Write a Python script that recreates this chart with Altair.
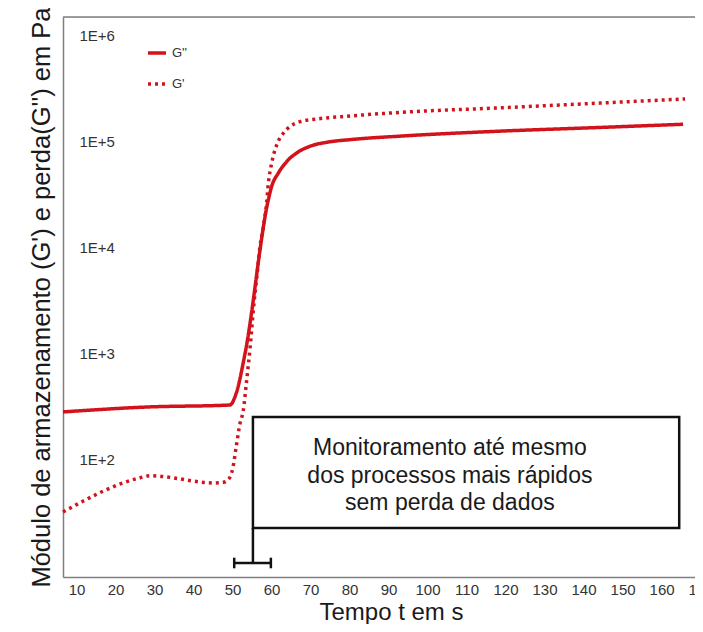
import altair as alt
import pandas as pd

RED = "#d3131c"
FONT = "Liberation Sans"

# --- data ---
x_ticks = [10, 20, 30, 40, 50, 60, 70, 80, 90, 100, 110, 120, 130, 140, 150, 160, 170]
y_ticks = [1e2, 1e3, 1e4, 1e5, 1e6]

t_loss = [6.4, 28.0, 49.2, 50.8, 53.1, 59.05, 59.9, 61.6, 63.8, 66.3, 69.7, 74.0, 80.0, 92.8,
          118.5, 144.1, 165.4]
g_loss = [284, 316, 330, 425, 1021, 28500, 38100, 50800, 65600, 78700, 91000, 99300, 105200, 113500,
          126500, 137100, 146900]

t_stor = [6.4, 26.2, 28.7, 31.5, 45.4, 47.5, 48.7, 50.0, 50.8, 51.8, 52.6, 53.5, 54.4, 55.2, 56.1,
          56.9, 57.8, 58.6, 59.05, 59.9, 61.2, 62.9, 64.6, 67.2, 71.5, 80.0, 92.8, 118.5, 144.1, 165.9]
g_stor = [32.3, 68, 71.1, 70, 60.7, 61.5, 64.7, 85.9, 132.7, 222, 290, 569, 1172, 2600, 5360,
          10300, 15900, 26400, 40700, 62900, 93800, 120800, 139600, 155600, 164800, 175800, 190100,
          209900, 232800, 254700]

series_names = ["G''", "G'"]

note_lines = ["Monitoramento até mesmo", "dos processos mais rápidos", "sem perda de dados"]
note_x = [105.6, 105.6, 105.6]
note_y = [111.5, 61.1, 33.7]

box_x = [55.1]
box_x2 = [164.4]
box_y = [254.7]
box_y2 = [22.8]

# bracket segments (stem, bar, two caps)
seg_x = [55.1, 50.3, 50.3, 59.7]
seg_x2 = [55.1, 59.7, 50.3, 59.7]
seg_y = [22.8, 10.67, 9.51, 9.51]
seg_y2 = [10.67, 10.67, 11.97, 11.97]

x_domain = [6.4, 170.5]
y_domain = [7.87, 1.51e6]

# --- tables ---
lines_df = pd.concat([
    pd.DataFrame({"t": t_loss, "g": g_loss, "serie": series_names[0]}),
    pd.DataFrame({"t": t_stor, "g": g_stor, "serie": series_names[1]}),
])
note_df = pd.DataFrame({"x": note_x, "y": note_y, "txt": note_lines})
box_df = pd.DataFrame({"x": box_x, "x2": box_x2, "y": box_y, "y2": box_y2})
seg_df = pd.DataFrame({"x": seg_x, "x2": seg_x2, "y": seg_y, "y2": seg_y2})
frame_df = pd.DataFrame({"x": [x_domain[0]], "x2": [x_domain[1]], "y": [y_domain[1]]})
xlab_df = pd.DataFrame({"x": x_ticks, "y": [y_domain[0]] * len(x_ticks),
                        "txt": [str(v) for v in x_ticks]})

xscale = alt.Scale(domain=x_domain, nice=False, zero=False)
yscale = alt.Scale(type="log", domain=y_domain, nice=False)

x_axis = alt.Axis(
    values=x_ticks, labels=False,
    title="Tempo t em s", titleX=328, titleY=42, titleBaseline="alphabetic",
)
y_axis = alt.Axis(
    values=y_ticks,
    labelExpr="'1E+' + round(log(datum.value) / LN10)",
    title="Módulo de armazenamento (G') e perda(G'')  em Pa",
)

lines = alt.Chart(lines_df).mark_line(strokeWidth=3.5, color=RED, interpolate="monotone").encode(
    x=alt.X("t:Q", scale=xscale, axis=x_axis),
    y=alt.Y("g:Q", scale=yscale, axis=y_axis),
    detail="serie:N",
    strokeDash=alt.StrokeDash(
        "serie:N",
        scale=alt.Scale(domain=series_names, range=[[1, 0], [3, 4]]),
        legend=alt.Legend(
            title=None, orient="none", legendX=83, legendY=25, padding=0,
            symbolType="stroke", symbolSize=324, symbolStrokeColor=RED, symbolStrokeWidth=3.5,
            labelFont=FONT, labelFontSize=13, labelColor="#333333", labelOffset=4,
            rowPadding=13,
        ),
    ),
)

frame = alt.Chart(frame_df).mark_rule(stroke="#7f7f7f", strokeWidth=1.5).encode(
    x=alt.X("x:Q", scale=xscale), x2="x2:Q",
    y=alt.Y("y:Q", scale=yscale),
)

box = alt.Chart(box_df).mark_rect(fill="white", stroke="#111111", strokeWidth=2.5).encode(
    x=alt.X("x:Q", scale=xscale), x2="x2:Q",
    y=alt.Y("y:Q", scale=yscale), y2="y2:Q",
)

segs = alt.Chart(seg_df).mark_rule(stroke="#111111", strokeWidth=2.5).encode(
    x=alt.X("x:Q", scale=xscale), x2="x2:Q",
    y=alt.Y("y:Q", scale=yscale), y2="y2:Q",
)

notes = alt.Chart(note_df).mark_text(
    font=FONT, fontSize=23, color="#1a1a1a", align="center", baseline="alphabetic"
).encode(
    x=alt.X("x:Q", scale=xscale),
    y=alt.Y("y:Q", scale=yscale),
    text="txt:N",
)

xlabels = alt.Chart(xlab_df).mark_text(
    font=FONT, fontSize=15, color="#333333", align="center", baseline="middle", dy=13
).encode(
    x=alt.X("x:Q", scale=xscale),
    y=alt.Y("y:Q", scale=yscale),
    text="txt:N",
)

chart = alt.layer(lines, frame, segs, box, notes, xlabels).properties(
    width=640, height=560,
    autosize=alt.AutoSizeParams(type="none"),
    padding={"left": 55, "top": 9, "right": -8, "bottom": 47},
).configure_view(
    stroke=None
).configure(
    background="white"
).configure_axis(
    ticks=False, tickSize=0, grid=False, domainColor="#7f7f7f", domainWidth=1.5,
    labelFont=FONT, labelFontSize=15, labelColor="#333333", labelOverlap=False,
    labelFlush=False, titleFont=FONT, titleFontWeight="normal", titleColor="#1a1a1a",
).configure_axisX(
    labels=False, titleFontSize=24,
).configure_axisY(
    labelAlign="left", labelBaseline="middle", labelPadding=-16,
    titleFontSize=25.5, titlePadding=9,
)

chart.save("out.html", embed_options={"renderer": "svg", "actions": False})
